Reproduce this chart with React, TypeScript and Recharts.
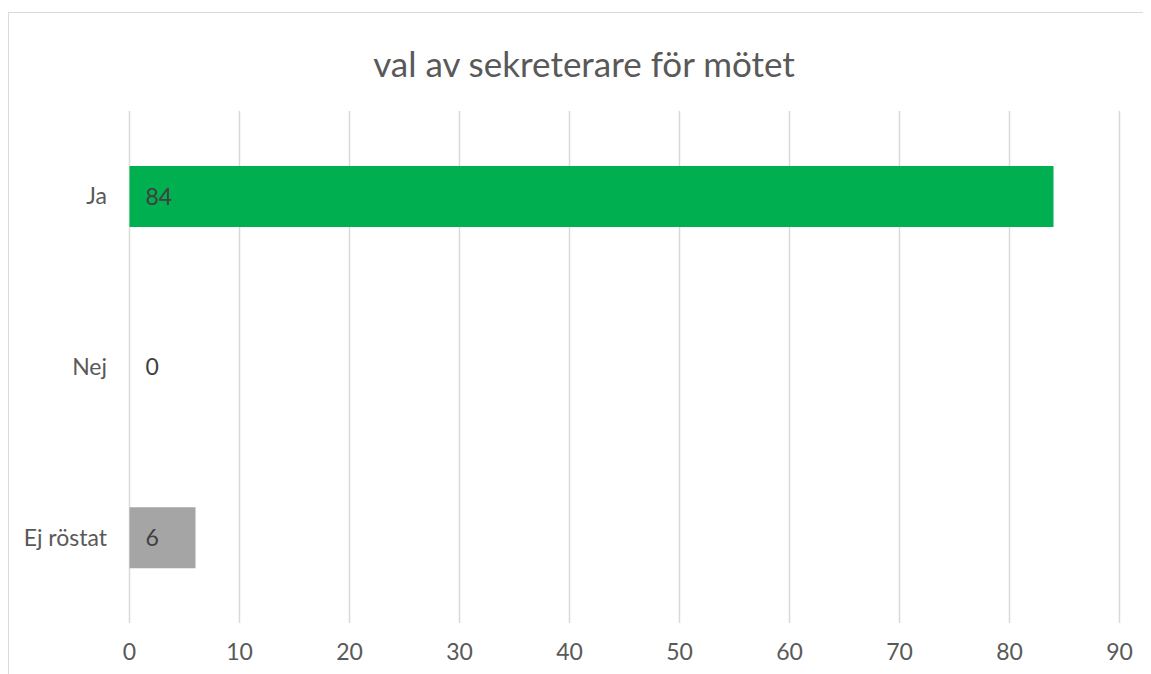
import React from 'react';
import { BarChart, Bar, XAxis, YAxis, CartesianGrid, Cell, LabelList } from 'recharts';

const title = 'val av sekreterare för mötet';
const categories = ['Ja', 'Nej', 'Ej röstat'];
const votes = [84, 0, 6];
const barColors = ['#00B050', '#D9D9D9', '#A5A5A5'];
const xTicks = [0, 10, 20, 30, 40, 50, 60, 70, 80, 90];

const data = categories.map((name, i) => ({ name, value: votes[i] }));

const FONT = "Lato, 'Liberation Sans', sans-serif";

export default function App() {
  return (
    <div style={{ position: 'relative', width: 1143, height: 666, overflow: 'hidden', fontFamily: FONT }}>
      <div
        style={{
          position: 'absolute',
          left: 0,
          top: 4,
          width: 1160,
          height: 700,
          borderTop: '1.5px solid #D9D9D9',
          borderLeft: '1.5px solid #D9D9D9',
          boxSizing: 'border-box',
        }}
      />
      <div
        style={{
          position: 'absolute',
          left: 276,
          top: 34,
          width: 600,
          textAlign: 'center',
          fontSize: 35,
          lineHeight: '42px',
          color: '#595959',
          whiteSpace: 'nowrap',
        }}
      >
        {title}
      </div>
      <div style={{ position: 'absolute', left: 0, top: 0 }}>
        <BarChart
          width={1143}
          height={666}
          data={data}
          layout="vertical"
          margin={{ top: 103, right: 31.5, bottom: 21, left: 21.5 }}
        >
          <CartesianGrid horizontal={false} stroke="#D9D9D9" strokeWidth={1.5} />
          <XAxis
            type="number"
            domain={[0, 90]}
            ticks={xTicks}
            axisLine={false}
            tickLine={false}
            tickSize={0}
            tickMargin={21}
            height={30}
            interval={0}
            tick={{ fill: '#595959', fontSize: 23, fontFamily: FONT }}
          />
          <YAxis
            type="category"
            dataKey="name"
            axisLine={false}
            tickLine={false}
            tickSize={0}
            tickMargin={22.5}
            width={100}
            tick={{ fill: '#595959', fontSize: 23, fontFamily: FONT }}
          />
          <Bar dataKey="value" barSize={61} minPointSize={0.01} isAnimationActive={false}>
            {data.map((d, i) => (
              <Cell key={d.name} fill={barColors[i]} />
            ))}
            <LabelList
              dataKey="value"
              position="insideLeft"
              offset={16}
              fill="#404040"
              fontSize={23}
              fontFamily={FONT}
            />
          </Bar>
        </BarChart>
      </div>
    </div>
  );
}
